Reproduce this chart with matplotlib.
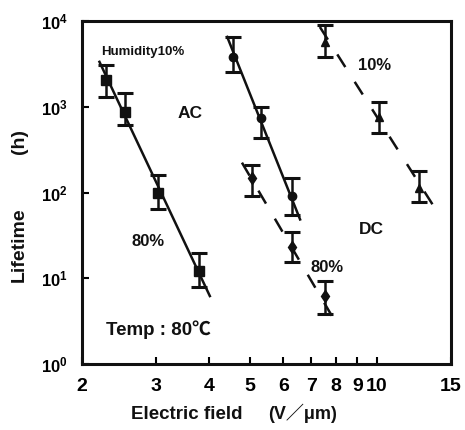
import matplotlib
matplotlib.use("Agg")
import matplotlib.pyplot as plt
import numpy as np

plt.rcParams['font.family'] = ['Liberation Sans', 'DejaVu Sans']
plt.rcParams['font.weight'] = 'bold'
plt.rcParams['mathtext.fontset'] = 'custom'
plt.rcParams['mathtext.rm'] = 'Liberation Sans:bold'
plt.rcParams['mathtext.it'] = 'Liberation Sans:bold'
plt.rcParams['mathtext.bf'] = 'Liberation Sans:bold'

# AC, squares (left solid line)
ac_sq_x = [2.28, 2.53, 3.03, 3.79]
ac_sq_y = [2060, 875, 100, 12]
ac_sq_lo = [1306, 618, 65, 7.9]
ac_sq_hi = [3080, 1456, 158, 19.5]
ac_sq_line_x = [2.20, 4.02]
ac_sq_line_y = [3340, 6.2]

# AC, circles (middle solid line)
ac_ci_x = [4.56, 5.31, 6.29]
ac_ci_y = [3810, 745, 90]
ac_ci_lo = [2550, 437, 55]
ac_ci_hi = [6520, 1000, 146]
ac_ci_line_x = [4.42, 6.58]
ac_ci_line_y = [6520, 48.5]

# DC 80% (dashed)
dc80_x = [5.06, 6.29, 7.54]
dc80_y = [149, 23, 6.2]
dc80_lo = [90, 15.4, 3.8]
dc80_hi = [212, 35, 9.2]
dc80_line_x = [4.79, 7.96]
dc80_line_y = [223, 3.16]

# DC 10% (dashed)
dc10_x = [7.54, 10.1, 12.6]
dc10_y = [5700, 766, 114]
dc10_lo = [3810, 499, 78]
dc10_hi = [8980, 1143, 180]
dc10_line_x = [7.33, 13.9]
dc10_line_y = [8520, 60]

x_ticks = [2, 3, 4, 5, 6, 7, 8, 9, 10, 15]
x_ticklabels = ['2', '3', '4', '5', '6', '7', '8', '9', '10', '15']
y_ticks = [1, 10, 100, 1000, 10000]
y_ticklabels = [r'$10^{0}$', r'$10^{1}$', r'$10^{2}$', r'$10^{3}$', r'$10^{4}$']

fig = plt.figure(figsize=(4.65, 4.30), dpi=100)
ax = fig.add_axes([82/465, 1-364/430, (451-82)/465, (364-21)/430])
ax.set_xscale('log')
ax.set_yscale('log')
ax.set_xlim(2, 15)
ax.set_ylim(1, 10000)

k = '#111111'

def series(x, y, lo, hi, marker, ms):
    y = np.array(y); lo = np.array(lo); hi = np.array(hi)
    ax.errorbar(x, y, yerr=[y - lo, hi - y], fmt=marker, color=k, ms=ms,
                ecolor=k, elinewidth=1.8, capsize=6, capthick=2.2)

ax.plot(ac_sq_line_x, ac_sq_line_y, color=k, lw=1.8)
ax.plot(ac_ci_line_x, ac_ci_line_y, color=k, lw=1.8)
ax.plot(dc80_line_x, dc80_line_y, color=k, lw=1.8, dashes=(6, 7))
ax.plot(dc10_line_x, dc10_line_y, color=k, lw=1.8, dashes=(6, 7))

series(ac_sq_x, ac_sq_y, ac_sq_lo, ac_sq_hi, 's', 7)
series(ac_ci_x, ac_ci_y, ac_ci_lo, ac_ci_hi, 'o', 6)
series(dc80_x, dc80_y, dc80_lo, dc80_hi, 'd', 6)
series(dc10_x, dc10_y, dc10_lo, dc10_hi, '^', 6)

ax.xaxis.set_major_locator(matplotlib.ticker.FixedLocator(x_ticks))
ax.xaxis.set_major_formatter(matplotlib.ticker.FixedFormatter(x_ticklabels))
ax.xaxis.set_minor_locator(matplotlib.ticker.NullLocator())
ax.yaxis.set_major_locator(matplotlib.ticker.FixedLocator(y_ticks))
ax.yaxis.set_major_formatter(matplotlib.ticker.FixedFormatter(y_ticklabels))
ax.yaxis.set_minor_locator(matplotlib.ticker.NullLocator())
ax.tick_params(axis='both', direction='in', length=5, width=1.5)
ax.tick_params(axis='x', pad=10, labelsize=14)
ax.tick_params(axis='y', pad=10, labelsize=12)
for s in ax.spines.values():
    s.set_linewidth(2.2)
    s.set_color(k)

fam = ['Liberation Sans', 'Noto Sans CJK JP', 'DejaVu Sans']

def t(px, py, s, size=11, rot=0, va='center', family=fam):
    fig.text(px/465, 1-py/430, s, ha='center', va=va, fontsize=size,
             fontweight='bold', color=k, rotation=rot, fontfamily=family)

# axis titles
t(187, 419, 'Electric field', 13.5, va='baseline')
t(303, 419, '(V／μm)', 13, va='baseline')
t(19, 245, 'Lifetime', 14, rot=90)
t(19, 141, '(h)', 14, rot=90)

# annotations
t(143, 52, 'Humidity10%', 9.5)
t(190, 113, 'AC', 12.5)
t(375, 65, '10%', 12)
t(148, 242, '80%', 12)
t(371, 229, 'DC', 12.5)
t(327, 267, '80%', 12)
t(158, 330, 'Temp : 80℃', 13.5)

fig.savefig('out.png', dpi=100)
